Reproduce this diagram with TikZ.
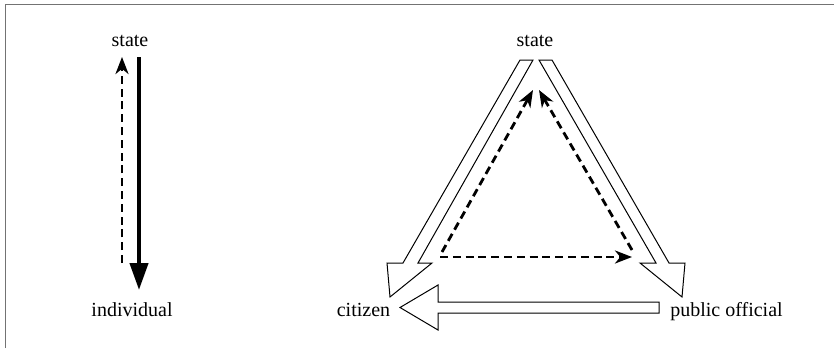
\documentclass[tikz,border=0pt]{standalone}
\usepackage{fontspec}
\setmainfont{Liberation Serif}
\usetikzlibrary{arrows.meta}
\begin{document}
\begin{tikzpicture}[x=0.5pt,y=-0.5pt,
  lbl/.style={anchor=base,inner sep=0pt,font=\fontsize{10pt}{12pt}\selectfont},
  framegray/.style={draw=black!55,line width=0.6pt},
  hollow/.style={draw=black,line width=0.5pt,fill=white,line join=miter},
  dash arrow/.style={line width=1.4pt,dash pattern=on 4pt off 2.4pt,
    -{Stealth[length=8.5pt,width=6.5pt,inset=2.6pt]}},
  heavy arrow/.style={line width=2.1pt,-{Triangle[length=13.5pt,width=9pt]}}]
\useasboundingbox (0,0) rectangle (834,348);
% partial frame
\draw[framegray] (5.5,348) -- (5.5,4.5) -- (834,4.5);

% ---- left diagram: state / individual
\node[lbl] (st1) at (130,46.5) {state};
\node[lbl] (ind) at (132,316) {individual};
\coordinate (d1) at (122,263);
\coordinate (d2) at (122,57);
\coordinate (h1) at (139,57);
\coordinate (h2) at (139,290);
\draw[dash arrow] (d1) -- (d2);
\draw[heavy arrow] (h1) -- (h2);

% ---- right diagram: state / citizen / public official
\node[lbl] (st2) at (535,46.5) {state};
\node[lbl] (cit) at (363.5,316) {citizen};
\node[lbl] (pub) at (726.5,316) {public official};

% hollow arrow: state -> citizen
\draw[hollow] (520,60) -- (533,60) -- (418,263) -- (432,263) -- (390,297)
  -- (387,263) -- (403,263) -- cycle;
% hollow arrow: state -> public official
\draw[hollow] (539,60) -- (552,60) -- (669,263) -- (685,263) -- (682,297)
  -- (640,263) -- (656,263) -- cycle;
% hollow arrow: public official -> citizen
\draw[hollow] (659,302) -- (659,313) -- (438,313) -- (438,330) -- (400,307.5)
  -- (438,285) -- (438,302) -- cycle;

% dashed feedback triangle
\coordinate (cl) at (442,252);
\coordinate (ca) at (533,90);
\coordinate (pl) at (632,250);
\coordinate (pa) at (539,90);
\coordinate (b1) at (440,257);
\coordinate (b2) at (632,257);
\draw[dash arrow] (cl) -- (ca);
\draw[dash arrow] (pl) -- (pa);
\draw[dash arrow] (b1) -- (b2);
\end{tikzpicture}
\end{document}
